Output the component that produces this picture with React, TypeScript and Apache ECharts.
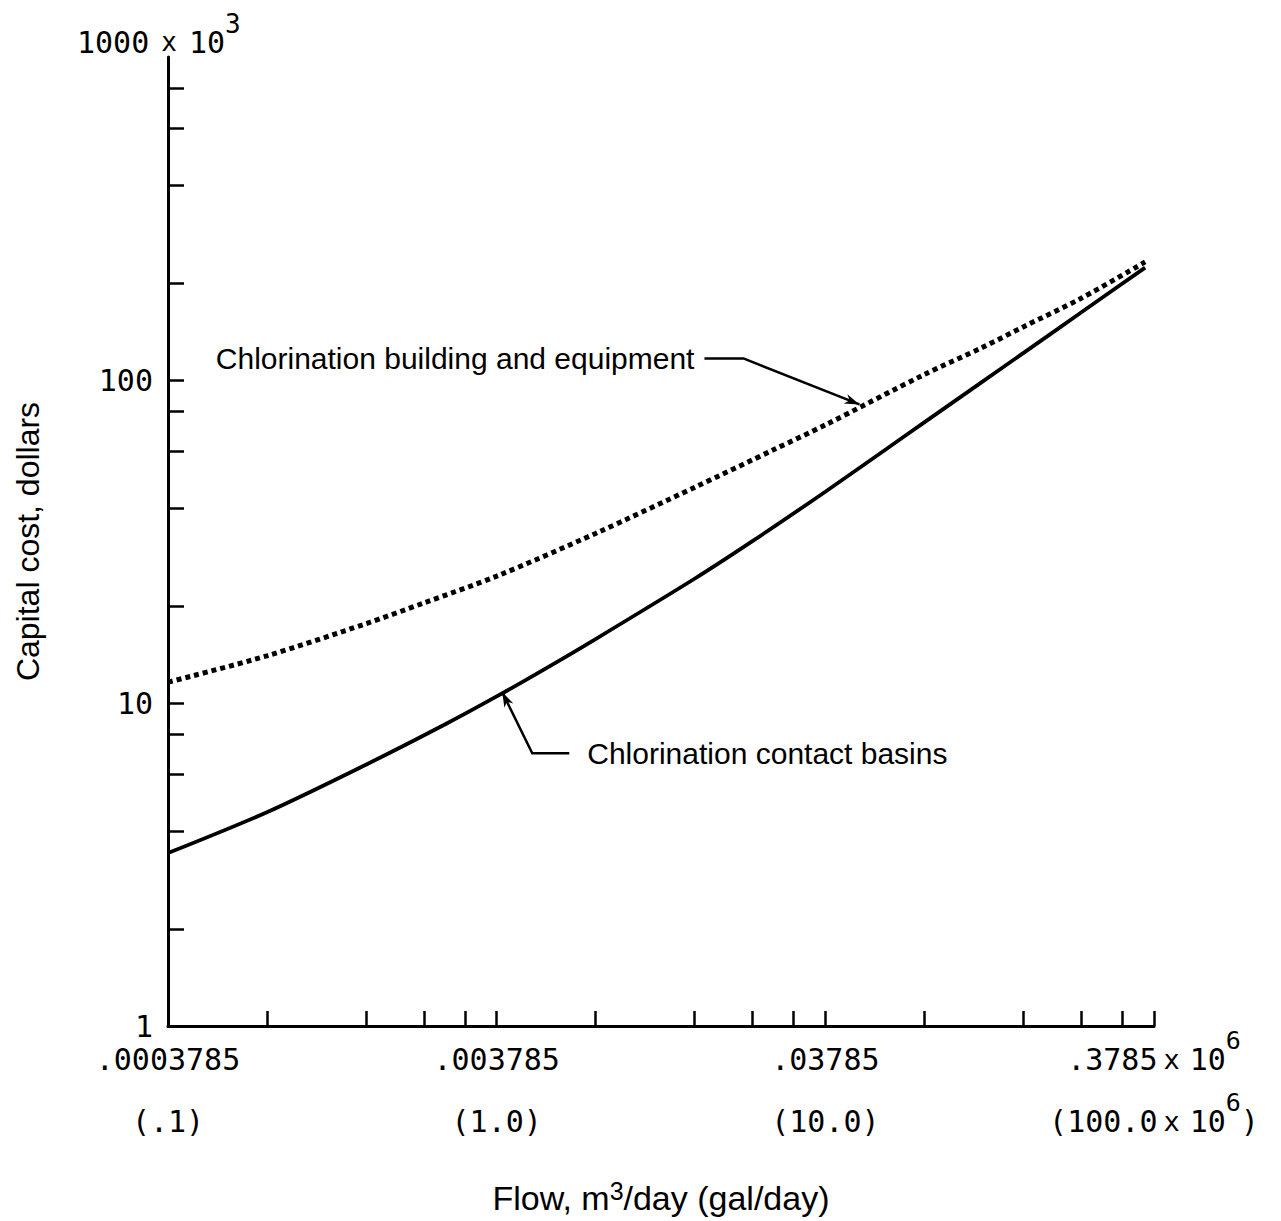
import React, { useEffect, useRef } from "react";
import * as echarts from "echarts";

// Flow in gal/day (x 10^6) and capital cost in dollars (x 10^3)
const buildingFlow = [0.1, 0.2, 0.4, 0.6, 1, 2, 4, 7, 10, 20, 30, 40, 60, 94];
const buildingCost = [11.6, 14.0, 17.6, 20.4, 24.7, 33.5, 46.5, 61, 72.6, 104, 126, 146, 179, 232];
const basinFlow = [0.1, 0.2, 0.4, 0.7, 1, 1.4, 2, 4, 6, 10, 15, 20, 30, 40, 60, 94];
const basinCost = [3.43, 4.59, 6.44, 8.61, 10.48, 12.74, 15.78, 24.25, 31.7, 45.1, 60.2, 73.9, 98.7, 121.1, 161.8, 222.8];

const xTickValues = [0.2, 0.4, 0.6, 0.8, 1, 2, 4, 6, 8, 10, 20, 40, 60, 80, 100];
const yTickValues = [2, 4, 6, 8, 10, 20, 40, 60, 80, 100, 200, 400, 600, 800];
const xLabelValues = [0.1, 1, 10, 100];
const xLabelM3 = [".0003785", ".003785", ".03785", ".3785"];
const xLabelGal = ["(.1)", "(1.0)", "(10.0)", "(100.0"];
const yLabelValues = [1, 10, 100];
const yLabelText = ["1", "10", "100"];
const yTopLabel = "1000";

const buildingName = "Chlorination building and equipment";
const basinName = "Chlorination contact basins";
const buildingArrowAt = [12.7, 84];
const basinArrowAt = [1.04, 10.8];

const L = (v: number) => Math.log10(v);

export default function App() {
  const ref = useRef<HTMLDivElement>(null);
  useEffect(() => {
    const el = ref.current!;
    const chart = echarts.init(el, null, { renderer: "svg" });
    const mono = "'DejaVu Sans Mono', monospace";
    const sans = "'Liberation Sans', Arial, sans-serif";
    const numRich = {
      a: { fontFamily: mono, fontSize: 30, lineHeight: 62, color: "#000" },
      x: { fontFamily: mono, fontSize: 27, lineHeight: 62, color: "#000", padding: [0, 10, 0, 6] },
      sup: { fontFamily: mono, fontSize: 25, lineHeight: 26, verticalAlign: "top", color: "#000" },
    };
    const option: any = {
      animation: false,
      backgroundColor: "#ffffff",
      grid: { left: 168, right: 127, top: 57, bottom: 195, containLabel: false, outerBoundsMode: "none" },
      xAxis: {
        type: "value",
        min: -1,
        max: 2,
        axisLine: { show: true, onZero: false, lineStyle: { color: "#000", width: 3 } },
        splitLine: { show: false },
        axisTick: {
          show: true,
          inside: true,
          length: 15,
          lineStyle: { color: "#000", width: 2.5 },
          customValues: xTickValues.map(L),
        },
        axisLabel: {
          customValues: xLabelValues.map(L),
          margin: 2,
          color: "#000",
          formatter: (v: number) => {
            const i = xLabelValues.findIndex((x) => Math.abs(L(x) - v) < 1e-6);
            if (i < 0) return "";
            if (i === xLabelValues.length - 1) {
              return `{a|${xLabelM3[i]}}{x|x}{a|10}{sup|6}\n{a|${xLabelGal[i]}}{x|x}{a|10}{sup|6}{a|)}`;
            }
            return `{a|${xLabelM3[i]}}\n{a|${xLabelGal[i]}}`;
          },
          rich: numRich,
        },
        name: "{n|Flow, m}{s|3}{n|/day (gal/day)}",
        nameLocation: "middle",
        nameGap: 152,
        nameTextStyle: {
          color: "#000",
          rich: {
            n: { fontFamily: sans, fontSize: 34, lineHeight: 40, color: "#000" },
            s: { fontFamily: sans, fontSize: 25, lineHeight: 4, verticalAlign: "top", color: "#000" },
          },
        },
      },
      yAxis: {
        type: "value",
        min: 0,
        max: 3,
        axisLine: { show: true, onZero: false, lineStyle: { color: "#000", width: 3 } },
        splitLine: { show: false },
        axisTick: {
          show: true,
          inside: true,
          length: 16,
          lineStyle: { color: "#000", width: 2.5 },
          customValues: yTickValues.map(L),
        },
        axisLabel: {
          customValues: yLabelValues.map(L),
          margin: 15,
          color: "#000",
          fontFamily: mono,
          fontSize: 30,
          formatter: (v: number) => {
            const i = yLabelValues.findIndex((x) => Math.abs(L(x) - v) < 1e-6);
            return i < 0 ? "" : yLabelText[i];
          },
        },
        name: "Capital cost, dollars",
        nameLocation: "middle",
        nameRotate: 90,
        nameGap: 124,
        nameTextStyle: { color: "#000", fontFamily: sans, fontSize: 32 },
      },
      series: [
        {
          type: "line",
          name: buildingName,
          data: buildingFlow.map((x, i) => [L(x), L(buildingCost[i])]),
          symbol: "none",
          smooth: 0.3,
          lineStyle: { color: "#000", width: 5, type: [5, 4], cap: "butt" },
        },
        {
          type: "line",
          name: basinName,
          data: basinFlow.map((x, i) => [L(x), L(basinCost[i])]),
          symbol: "none",
          smooth: 0.3,
          lineStyle: { color: "#000", width: 3.8 },
        },
      ],
    };
    chart.setOption(option);

    const px = (x: number, y: number) => chart.convertToPixel({ gridIndex: 0 }, [L(x), L(y)]) as number[];
    const arrowHead = (tip: number[], from: number[]) => {
      const dx = tip[0] - from[0];
      const dy = tip[1] - from[1];
      const len = Math.hypot(dx, dy);
      const ux = dx / len, uy = dy / len;
      const nx = -uy, ny = ux;
      const hl = 15, hw = 5;
      return {
        type: "polygon",
        shape: {
          points: [
            [tip[0], tip[1]],
            [tip[0] - ux * hl + nx * hw, tip[1] - uy * hl + ny * hw],
            [tip[0] - ux * hl * 0.7, tip[1] - uy * hl * 0.7],
            [tip[0] - ux * hl - nx * hw, tip[1] - uy * hl - ny * hw],
          ],
        },
        style: { fill: "#000" },
        z: 100,
      };
    };
    const corner = px(0.1, 1000);
    const tA = px(buildingArrowAt[0], buildingArrowAt[1]);
    const tB = px(basinArrowAt[0], basinArrowAt[1]);
    const elbowA = [tA[0] - 116, tA[1] - 46];
    const startA = [tA[0] - 155, tA[1] - 46];
    const elbowB = [tB[0] + 30, tB[1] + 61];
    const endB = [tB[0] + 67, tB[1] + 61];

    chart.setOption({
      graphic: [
        {
          type: "text",
          x: corner[0] - 91,
          y: corner[1] - 15,
          z: 100,
          style: {
            text: `{a|${yTopLabel}}{x|x}{a|10}{sup|3}`,
            align: "left",
            verticalAlign: "middle",
            fill: "#000",
            rich: {
              a: { fontFamily: mono, fontSize: 30, lineHeight: 62, fill: "#000" },
              x: { fontFamily: mono, fontSize: 26, lineHeight: 62, fill: "#000", padding: [0, 12, 0, 12] },
              sup: { fontFamily: mono, fontSize: 26, lineHeight: 26, verticalAlign: "top", fill: "#000" },
            },
          },
        },
        {
          type: "text",
          x: startA[0] - 10,
          y: startA[1],
          z: 100,
          style: {
            text: buildingName,
            align: "right",
            verticalAlign: "middle",
            fill: "#000",
            fontFamily: sans,
            fontSize: 30,
          },
        },
        {
          type: "polyline",
          z: 100,
          shape: { points: [startA, elbowA, tA] },
          style: { stroke: "#000", lineWidth: 2.5, fill: null },
        },
        arrowHead(tA, elbowA),
        {
          type: "text",
          x: endB[0] + 18,
          y: endB[1],
          z: 100,
          style: {
            text: basinName,
            align: "left",
            verticalAlign: "middle",
            fill: "#000",
            fontFamily: sans,
            fontSize: 30,
          },
        },
        {
          type: "polyline",
          z: 100,
          shape: { points: [endB, elbowB, tB] },
          style: { stroke: "#000", lineWidth: 2.5, fill: null },
        },
        arrowHead(tB, elbowB),
      ],
    });

    return () => {
      chart.dispose();
    };
  }, []);
  return (
    <div
      ref={ref}
      style={{ position: "absolute", left: 0, top: 0, width: 1281, height: 1221, background: "#fff" }}
    />
  );
}
